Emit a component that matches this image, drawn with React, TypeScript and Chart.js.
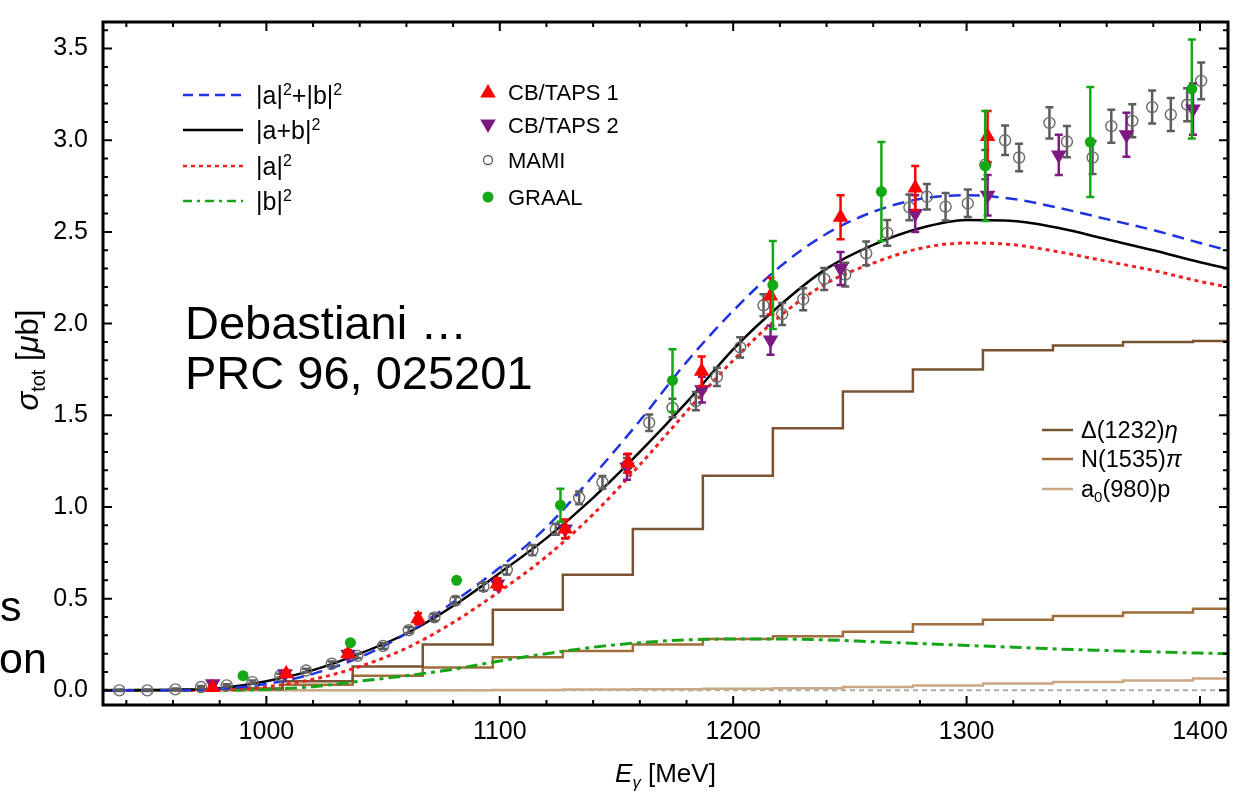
import React, { useEffect, useRef } from "react";
import { Chart, registerables } from "chart.js";

Chart.register(...registerables);

const FONT = '"Liberation Sans", Arial, Helvetica, sans-serif';

// ---------- axes ----------
const xMin = 930;
const xMax = 1412;
const yMin = -0.08;
const yMax = 3.645;
const xTickValues = [1000, 1100, 1200, 1300, 1400];
const yTickValues = [0, 0.5, 1.0, 1.5, 2.0, 2.5, 3.0, 3.5];

// ---------- model curves (E in MeV, sigma in microbarn) ----------
const curveE = [930, 960, 980, 1000, 1020, 1040, 1060, 1080, 1100, 1120, 1140, 1160, 1180, 1200, 1220, 1240, 1260, 1280, 1300, 1320, 1340, 1360, 1380, 1400, 1412];
const sumAB = [0.0, 0.0, 0.008, 0.035, 0.09, 0.18, 0.31, 0.48, 0.67, 0.89, 1.17, 1.47, 1.79, 2.07, 2.31, 2.49, 2.61, 2.68, 2.70, 2.68, 2.63, 2.57, 2.51, 2.44, 2.40];
const cohAB = [0.0, 0.003, 0.012, 0.05, 0.11, 0.2, 0.31, 0.46, 0.64, 0.83, 1.05, 1.30, 1.57, 1.86, 2.10, 2.30, 2.43, 2.52, 2.565, 2.56, 2.52, 2.46, 2.40, 2.335, 2.30];
const onlyA = [0.0, 0.0, 0.002, 0.02, 0.06, 0.13, 0.23, 0.37, 0.54, 0.73, 0.96, 1.23, 1.52, 1.80, 2.04, 2.22, 2.33, 2.41, 2.44, 2.43, 2.39, 2.34, 2.29, 2.23, 2.20];
const onlyB = [0.0, 0.0, 0.0, 0.005, 0.02, 0.05, 0.08, 0.115, 0.16, 0.2, 0.235, 0.26, 0.275, 0.28, 0.28, 0.275, 0.265, 0.255, 0.245, 0.235, 0.225, 0.217, 0.21, 0.203, 0.20];

// ---------- histograms (bin edges and levels) ----------
const binEdges = [976, 1007, 1037, 1067, 1097, 1127, 1157, 1187, 1217, 1247, 1277, 1307, 1337, 1367, 1397, 1412];
const deltaEta = [0.01, 0.05, 0.13, 0.25, 0.44, 0.63, 0.88, 1.17, 1.43, 1.63, 1.75, 1.855, 1.88, 1.90, 1.905];
const nPi = [0.005, 0.03, 0.08, 0.125, 0.18, 0.215, 0.25, 0.28, 0.295, 0.32, 0.36, 0.385, 0.405, 0.425, 0.445];
const a0p = [0, 0, 0, 0, 0.002, 0.004, 0.006, 0.009, 0.012, 0.018, 0.027, 0.037, 0.045, 0.054, 0.064];

// ---------- data ----------
const mamiE = [937, 949, 961, 972, 983, 994, 1006, 1017, 1028, 1039, 1050, 1061, 1072, 1081, 1093, 1103, 1114, 1124, 1134, 1144, 1154.5, 1164, 1174, 1184, 1193, 1203, 1213, 1221, 1230, 1239, 1248, 1257, 1266, 1275.5, 1283, 1291, 1300.5, 1308, 1316.5, 1322.5, 1335.5, 1343, 1354, 1362, 1371, 1379.5, 1387.5, 1394.5, 1400.5];
const mamiS = [0.0, 0.0, 0.005, 0.018, 0.027, 0.045, 0.08, 0.108, 0.145, 0.188, 0.242, 0.328, 0.398, 0.489, 0.565, 0.657, 0.765, 0.878, 1.05, 1.134, 1.227, 1.46, 1.54, 1.577, 1.71, 1.87, 2.10, 2.052, 2.133, 2.244, 2.267, 2.383, 2.495, 2.634, 2.692, 2.638, 2.656, 2.867, 3.0, 2.906, 3.095, 2.993, 2.906, 3.077, 3.106, 3.181, 3.14, 3.194, 3.324];
const mamiErr = [0.004, 0.004, 0.005, 0.006, 0.006, 0.008, 0.01, 0.01, 0.012, 0.012, 0.015, 0.016, 0.018, 0.02, 0.022, 0.025, 0.028, 0.03, 0.035, 0.035, 0.04, 0.045, 0.05, 0.05, 0.05, 0.055, 0.06, 0.06, 0.06, 0.06, 0.065, 0.065, 0.07, 0.07, 0.07, 0.075, 0.075, 0.08, 0.08, 0.075, 0.085, 0.085, 0.09, 0.09, 0.09, 0.09, 0.09, 0.09, 0.1];

const cb1E = [977, 1008.5, 1035, 1065, 1099, 1128, 1155, 1186.5, 1216, 1246, 1278, 1309];
const cb1S = [0.015, 0.09, 0.2, 0.39, 0.58, 0.88, 1.24, 1.74, 2.15, 2.58, 2.74, 3.02];
const cb1Err = [0.01, 0.015, 0.02, 0.03, 0.03, 0.05, 0.05, 0.08, 0.1, 0.12, 0.12, 0.14];

const cb2E = [977, 1008, 1035, 1099, 1128, 1154.5, 1186.6, 1216, 1246, 1278, 1309, 1339.5, 1368.5, 1397];
const cb2S = [0.036, 0.09, 0.197, 0.58, 0.88, 1.218, 1.64, 1.91, 2.3, 2.6, 2.7, 2.92, 3.03, 3.17];
const cb2Err = [0.01, 0.015, 0.02, 0.03, 0.05, 0.07, 0.07, 0.08, 0.09, 0.1, 0.11, 0.11, 0.12, 0.14];

const graalE = [990, 1036, 1081.5, 1126, 1174, 1217, 1263.5, 1308, 1353, 1396.5];
const graalS = [0.08, 0.26, 0.6, 1.01, 1.69, 2.21, 2.72, 2.86, 2.99, 3.28];
const graalErr = [0, 0, 0, 0.09, 0.17, 0.24, 0.27, 0.3, 0.3, 0.27];

// ---------- colours ----------
const BLUE = "#1f33e0";
const BLACK = "#000000";
const RED = "#ee2020";
const GREEN = "#18a418";
const C_DELTA = "#7a5432";
const C_NPI = "#a06d3c";
const C_A0 = "#c9a883";
const C_RED_PT = "#ff0000";
const C_PURPLE = "#7d1a82";
const C_MAMI = "#5c5c5c";
const C_GRAAL = "#14a814";

type Seg = { t: string; it?: boolean; sub?: boolean; sup?: boolean };

function segFont(size: number, s: Seg) {
  const sz = s.sub || s.sup ? size * 0.64 : size;
  return `${s.it ? "italic " : ""}${sz}px ${FONT}`;
}
function measureRich(ctx: CanvasRenderingContext2D, segs: Seg[], size: number) {
  let w = 0;
  for (const s of segs) {
    ctx.font = segFont(size, s);
    w += ctx.measureText(s.t).width;
  }
  return w;
}
function drawRich(ctx: CanvasRenderingContext2D, segs: Seg[], x: number, y: number, size: number) {
  ctx.textBaseline = "alphabetic";
  ctx.textAlign = "left";
  for (const s of segs) {
    ctx.font = segFont(size, s);
    const dy = s.sub ? size * 0.22 : s.sup ? -size * 0.36 : 0;
    ctx.fillText(s.t, x, y + dy);
    x += ctx.measureText(s.t).width;
  }
}

const pts = (xs: number[], ys: number[]) => xs.map((x, i) => ({ x, y: ys[i] }));
const stepPts = (levels: number[]) => [
  ...levels.map((v, i) => ({ x: binEdges[i], y: v })),
  { x: binEdges[binEdges.length - 1], y: levels[levels.length - 1] },
];

const errorBarPlugin = {
  id: "errbars",
  beforeDatasetDraw(chart: any, args: any) {
    const ds: any = chart.data.datasets[args.index];
    if (!ds.errors) return;
    const meta = chart.getDatasetMeta(args.index);
    const ys = chart.scales.y;
    const ctx: CanvasRenderingContext2D = chart.ctx;
    ctx.save();
    ctx.strokeStyle = ds.errColor;
    ctx.lineWidth = ds.errWidth || 2.5;
    ctx.setLineDash([]);
    meta.data.forEach((el: any, i: number) => {
      const e = ds.errors[i];
      if (!e) return;
      const d = ds.data[i];
      const x = el.x;
      const y1 = ys.getPixelForValue(d.y - e);
      const y2 = ys.getPixelForValue(d.y + e);
      const c = ds.capHalf || 4;
      ctx.beginPath();
      ctx.moveTo(x, y1);
      ctx.lineTo(x, y2);
      ctx.moveTo(x - c, y1);
      ctx.lineTo(x + c, y1);
      ctx.moveTo(x - c, y2);
      ctx.lineTo(x + c, y2);
      ctx.stroke();
    });
    ctx.restore();
  },
};

function triangle(ctx: CanvasRenderingContext2D, x: number, y: number, r: number, down: boolean) {
  const s = down ? -1 : 1;
  ctx.beginPath();
  ctx.moveTo(x, y - s * r);
  ctx.lineTo(x + r * 0.866, y + s * r * 0.5);
  ctx.lineTo(x - r * 0.866, y + s * r * 0.5);
  ctx.closePath();
  ctx.fill();
}

const decorPlugin = {
  id: "decor",
  afterDraw(chart: any) {
    const ctx: CanvasRenderingContext2D = chart.ctx;
    const { left, right, top, bottom } = chart.chartArea;
    const xs = chart.scales.x;
    const ys = chart.scales.y;
    ctx.save();

    // inward ticks on all four sides
    ctx.strokeStyle = "#000";
    ctx.lineWidth = 2;
    ctx.setLineDash([]);
    ctx.beginPath();
    for (let v = 940; v <= xMax; v += 20) {
      const major = xTickValues.includes(v);
      const L = major ? 9 : 5;
      const px = xs.getPixelForValue(v);
      ctx.moveTo(px, bottom);
      ctx.lineTo(px, bottom - L);
      ctx.moveTo(px, top);
      ctx.lineTo(px, top + L);
    }
    for (let k = 0; k <= 36; k++) {
      const v = k / 10;
      const major = k % 5 === 0;
      const L = major ? 9 : 5;
      const py = ys.getPixelForValue(v);
      ctx.moveTo(left, py);
      ctx.lineTo(left + L, py);
      ctx.moveTo(right, py);
      ctx.lineTo(right - L, py);
    }
    ctx.stroke();

    // frame
    ctx.lineWidth = 3;
    ctx.strokeRect(left, top, right - left, bottom - top);

    ctx.fillStyle = "#000";
    // x title
    const xt: Seg[] = [{ t: "E", it: true }, { t: "γ", it: true, sub: true }, { t: " [MeV]" }];
    const xw = measureRich(ctx, xt, 26);
    drawRich(ctx, xt, (left + right) / 2 - xw / 2, 782, 26);

    // y title
    const yt: Seg[] = [{ t: "σ", it: true }, { t: "tot", sub: true }, { t: " [" }, { t: "μ", it: true }, { t: "b]" }];
    ctx.save();
    ctx.translate(38, 360);
    ctx.rotate(-Math.PI / 2);
    const yw = measureRich(ctx, yt, 31);
    drawRich(ctx, yt, -yw / 2, 0, 31);
    ctx.restore();

    // legend 1 (curves)
    const leg1 = [
      { segs: [{ t: "|a|" }, { t: "2", sup: true }, { t: "+|b|" }, { t: "2", sup: true }], color: BLUE, dash: [10, 6] },
      { segs: [{ t: "|a+b|" }, { t: "2", sup: true }], color: BLACK, dash: [] },
      { segs: [{ t: "|a|" }, { t: "2", sup: true }], color: RED, dash: [4, 4] },
      { segs: [{ t: "|b|" }, { t: "2", sup: true }], color: GREEN, dash: [9, 5, 3, 5] },
    ];
    const leg1Y = [95, 130, 166, 201];
    leg1.forEach((it, i) => {
      ctx.strokeStyle = it.color;
      ctx.lineWidth = 2.5;
      ctx.setLineDash(it.dash);
      ctx.beginPath();
      ctx.moveTo(183, leg1Y[i]);
      ctx.lineTo(243, leg1Y[i]);
      ctx.stroke();
      ctx.setLineDash([]);
      ctx.fillStyle = "#000";
      drawRich(ctx, it.segs as Seg[], 256, leg1Y[i] + 9, 25);
    });

    // legend 2 (data)
    const leg2Y = [92, 125, 160, 197];
    const leg2 = ["CB/TAPS 1", "CB/TAPS 2", "MAMI", "GRAAL"];
    ctx.fillStyle = C_RED_PT;
    triangle(ctx, 488, leg2Y[0] + 1, 9, false);
    ctx.fillStyle = C_PURPLE;
    triangle(ctx, 488, leg2Y[1] - 1, 9, true);
    ctx.strokeStyle = C_MAMI;
    ctx.lineWidth = 1.3;
    ctx.beginPath();
    ctx.arc(488, leg2Y[2], 4.5, 0, Math.PI * 2);
    ctx.stroke();
    ctx.fillStyle = C_GRAAL;
    ctx.beginPath();
    ctx.arc(488, leg2Y[3], 5.5, 0, Math.PI * 2);
    ctx.fill();
    ctx.fillStyle = "#000";
    leg2.forEach((t, i) => drawRich(ctx, [{ t }], 508, leg2Y[i] + 8, 22));

    // legend 3 (histograms)
    const leg3 = [
      { segs: [{ t: "Δ(1232)" }, { t: "η", it: true }], color: C_DELTA },
      { segs: [{ t: "N(1535)" }, { t: "π", it: true }], color: C_NPI },
      { segs: [{ t: "a" }, { t: "0", sub: true }, { t: "(980)p" }], color: C_A0 },
    ];
    const leg3Y = [430, 459, 489];
    leg3.forEach((it, i) => {
      ctx.strokeStyle = it.color;
      ctx.lineWidth = 2.5;
      ctx.beginPath();
      ctx.moveTo(1042, leg3Y[i]);
      ctx.lineTo(1073, leg3Y[i]);
      ctx.stroke();
      ctx.fillStyle = "#000";
      drawRich(ctx, it.segs as Seg[], 1081, leg3Y[i] + 8, 23.5);
    });

    // annotation
    ctx.fillStyle = "#000";
    ctx.font = `47px ${FONT}`;
    ctx.textAlign = "left";
    ctx.textBaseline = "alphabetic";
    ctx.fillText("Debastiani …", 185, 339);
    ctx.fillText("PRC 96, 025201", 185, 389);

    // cut-off fragments at the left edge
    ctx.font = `43px ${FONT}`;
    ctx.fillText("s", 0, 621);
    ctx.fillText("on", -1, 673);

    ctx.restore();
  },
};

export default function App() {
  const ref = useRef<HTMLCanvasElement | null>(null);

  useEffect(() => {
    if (!ref.current) return;
    const lineBase = { showLine: true, pointRadius: 0, pointHoverRadius: 0, borderWidth: 2.5, fill: false };
    const chart = new Chart(ref.current, {
      type: "scatter",
      data: {
        datasets: [
          { ...lineBase, label: "zero", data: pts([xMin, xMax], [0, 0]), borderColor: "#aaaaaa", borderWidth: 2, borderDash: [5, 4], order: 20 } as any,
          { ...lineBase, label: "a0(980)p", data: stepPts(a0p), stepped: "before", borderColor: C_A0, order: 19 } as any,
          { ...lineBase, label: "N(1535)pi", data: stepPts(nPi), stepped: "before", borderColor: C_NPI, order: 18 } as any,
          { ...lineBase, label: "Delta(1232)eta", data: stepPts(deltaEta), stepped: "before", borderColor: C_DELTA, order: 17 } as any,
          { ...lineBase, label: "|b|^2", data: pts(curveE, onlyB), borderColor: GREEN, borderWidth: 3, borderDash: [12, 5, 4, 5], cubicInterpolationMode: "monotone", order: 12 } as any,
          { ...lineBase, label: "|a|^2", data: pts(curveE, onlyA), borderColor: RED, borderWidth: 3, borderDash: [4, 4], cubicInterpolationMode: "monotone", order: 11 } as any,
          { ...lineBase, label: "|a+b|^2", data: pts(curveE, cohAB), borderColor: BLACK, borderWidth: 2.5, cubicInterpolationMode: "monotone", order: 10 } as any,
          { ...lineBase, label: "|a|^2+|b|^2", data: pts(curveE, sumAB), borderColor: BLUE, borderWidth: 2.5, borderDash: [12, 7], cubicInterpolationMode: "monotone", order: 9 } as any,
          {
            label: "MAMI", data: pts(mamiE, mamiS), errors: mamiErr, errColor: C_MAMI, errWidth: 2.5, capHalf: 4,
            pointStyle: "circle", pointRadius: 5.5, pointBackgroundColor: "rgba(255,255,255,0)", pointBorderColor: "#6a6a6a", pointBorderWidth: 1.4, order: 4,
          } as any,
          {
            label: "CB/TAPS 2", data: pts(cb2E, cb2S), errors: cb2Err, errColor: C_PURPLE, errWidth: 2.5, capHalf: 4,
            pointStyle: "triangle", rotation: 180, pointRadius: 9, pointBackgroundColor: C_PURPLE, pointBorderColor: C_PURPLE, pointBorderWidth: 0, order: 3,
          } as any,
          {
            label: "CB/TAPS 1", data: pts(cb1E, cb1S), errors: cb1Err, errColor: C_RED_PT, errWidth: 2.5, capHalf: 4,
            pointStyle: "triangle", pointRadius: 9, pointBackgroundColor: C_RED_PT, pointBorderColor: C_RED_PT, pointBorderWidth: 0, order: 2,
          } as any,
          {
            label: "GRAAL", data: pts(graalE, graalS), errors: graalErr, errColor: C_GRAAL, errWidth: 2.5, capHalf: 4,
            pointStyle: "circle", pointRadius: 5.5, pointBackgroundColor: C_GRAAL, pointBorderColor: C_GRAAL, pointBorderWidth: 0, order: 1,
          } as any,
        ],
      },
      options: {
        responsive: false,
        animation: false,
        devicePixelRatio: 1,
        layout: { padding: { left: 0, right: 9, top: 12, bottom: 0 } },
        plugins: { legend: { display: false }, tooltip: { enabled: false } },
        events: [],
        scales: {
          x: {
            type: "linear",
            min: xMin,
            max: xMax,
            grid: { display: false },
            border: { display: false },
            afterBuildTicks: (scale: any) => {
              scale.ticks = xTickValues.map((v) => ({ value: v }));
            },
            afterFit: (scale: any) => {
              scale.height = 89;
            },
            ticks: { color: "#000", font: { family: FONT, size: 25 }, padding: 4, maxRotation: 0, autoSkip: false, callback: (v: any) => String(v) },
          },
          y: {
            type: "linear",
            min: yMin,
            max: yMax,
            grid: { display: false },
            border: { display: false },
            afterBuildTicks: (scale: any) => {
              scale.ticks = yTickValues.map((v) => ({ value: v }));
            },
            afterFit: (scale: any) => {
              scale.width = 103;
            },
            ticks: { color: "#000", font: { family: FONT, size: 25 }, padding: 7, autoSkip: false, callback: (v: any) => Number(v).toFixed(1) },
          },
        },
      } as any,
      plugins: [errorBarPlugin, decorPlugin],
    });
    return () => chart.destroy();
  }, []);

  return (
    <div style={{ position: "absolute", left: 0, top: 0, width: 1237, height: 794, background: "#fff" }}>
      <canvas ref={ref} width={1237} height={794} style={{ width: 1237, height: 794, display: "block" }} />
    </div>
  );
}
